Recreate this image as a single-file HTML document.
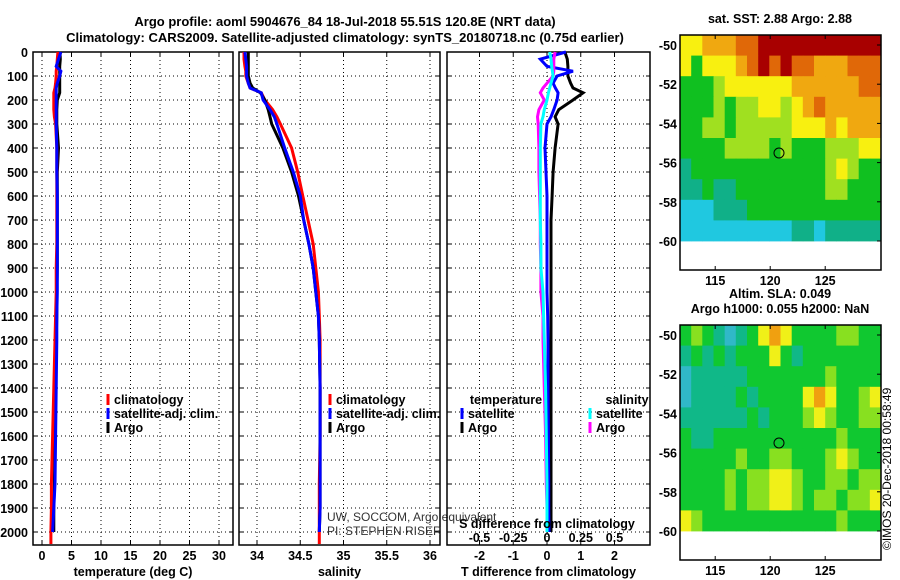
<!DOCTYPE html>
<html><head><meta charset="utf-8"><style>
body{margin:0;background:#fff}
svg{display:block;font-family:"Liberation Sans",Arial,sans-serif}
.b{font-weight:bold;font-size:12.5px}
.t{font-weight:bold;font-size:13px}
</style></head><body>
<svg id="c" width="900" height="580" viewBox="0 0 900 580" xmlns="http://www.w3.org/2000/svg">
<text class="t" x="345" y="26" text-anchor="middle">Argo profile: aoml 5904676_84 18-Jul-2018 55.51S 120.8E (NRT data)</text>
<text class="t" x="345" y="42" text-anchor="middle">Climatology: CARS2009. Satellite-adjusted climatology: synTS_20180718.nc (0.75d earlier)</text>
<g id="g"></g>
</svg>
<script>
// depth levels (m)
const depths=[0,30,60,80,100,130,150,170,200,240,270,300,400,500,600,700,800,900,1000,1100,1200,1400,1600,1800,1900,2000,2050];
// temperature (deg C)
const tempClim=[2.7,2.6,2.5,2.4,2.4,2.3,2.2,2.0,2.0,2.0,2.1,2.3,2.5,2.5,2.5,2.5,2.5,2.4,2.4,2.3,2.2,2.0,1.8,1.6,1.6,1.5,1.5];
const tempSat=[3.2,2.8,2.4,3.2,3.0,2.6,2.4,2.4,2.4,2.4,2.4,2.4,2.5,2.5,2.6,2.6,2.6,2.6,2.6,2.5,2.5,2.4,2.3,2.2,2.0,1.8,null];
const tempArgo=[3.05,3.1,3.0,3.0,3.0,3.0,3.0,3.0,2.6,2.5,2.5,2.5,2.8,2.6,2.6,2.6,2.6,2.6,2.5,2.5,2.4,2.3,2.2,2.1,2.0,2.0,null];
// salinity
const salClim=[33.85,33.85,33.86,33.87,33.87,33.9,33.92,34.05,34.09,34.18,34.23,34.27,34.40,34.47,34.53,34.59,34.65,34.68,34.71,34.72,34.73,34.73,34.73,34.72,34.72,34.72,34.72];
const salSat=[33.86,33.87,33.88,33.88,33.88,33.9,33.92,34.05,34.07,34.15,34.2,34.23,34.32,34.42,34.5,34.54,34.6,34.65,34.68,34.71,34.72,34.73,34.73,34.73,34.73,34.72,null];
const salArgo=[33.9,33.9,33.9,33.9,33.9,33.92,33.95,34.04,34.09,34.13,34.15,34.17,34.30,34.40,34.48,34.54,34.6,34.65,34.68,34.71,34.72,34.73,34.73,34.73,34.73,34.72,null];
// T differences
const tdSat=[0.56,-0.2,0.0,0.77,0.3,0.18,0.25,0.33,0.3,0.2,0.12,0.0,-0.06,-0.03,0.0,0.0,0.0,0.0,0.0,0.02,0.03,0.03,0.04,0.05,0.05,0.06,null];
const tdArgo=[0.53,0.6,0.62,0.62,0.62,0.7,0.77,1.07,0.77,0.35,0.24,0.33,0.24,0.18,0.15,0.12,0.12,0.12,0.12,0.12,0.12,0.12,0.12,0.12,0.12,0.12,null];
// S differences
const sdArgo=[0.06,0.05,0.05,0.05,0.045,0.0,-0.03,-0.05,-0.02,-0.06,-0.07,-0.065,-0.06,-0.06,-0.055,-0.05,-0.05,-0.045,-0.045,-0.03,-0.03,-0.02,-0.01,-0.005,0.0,0.0,null];
const sdSat=[0.02,0.03,0.035,0.04,0.045,0.03,0.02,0.01,0.0,-0.02,-0.03,-0.045,-0.05,-0.05,-0.05,-0.05,-0.045,-0.045,-0.03,-0.025,-0.02,-0.01,-0.005,0.0,0.0,0.0,null];
const depthTicks=[0,100,200,300,400,500,600,700,800,900,1000,1100,1200,1300,1400,1500,1600,1700,1800,1900,2000];
const tempTicks=[0,5,10,15,20,25,30];
const salTicks=[34,34.5,35,35.5,36];
const tdTicks=[-2,-1,0,1,2];
const sdTicks=[-0.5,-0.25,0,0.25,0.5];
const sdTickLabels=["-0.5","-0.25","0","0.25","0.5"];
// maps: 1-degree grids, rows lat -50..-60, cols lon 112..130 (colour class)
const sstGrid=[
[5,5,6,6,6,7,7,8,8,8,8,8,8,8,8,8,8,8],
[5,3,5,5,5,6,7,8,7,8,7,7,6,6,6,7,7,7],
[3,3,3,4,5,5,5,5,5,5,6,6,6,6,6,6,7,7],
[3,3,3,4,3,4,4,5,5,4,5,6,7,6,6,6,6,6],
[3,3,4,4,3,4,4,4,4,4,5,5,5,6,5,6,6,6],
[3,3,3,3,4,4,4,4,3,4,3,3,3,4,4,4,5,5],
[2,3,3,3,3,3,3,3,3,3,3,3,3,4,5,4,3,3],
[2,2,3,2,2,3,3,3,3,3,3,3,3,4,4,3,3,3],
[1,1,1,2,2,2,3,3,3,3,3,3,3,3,3,3,3,3],
[1,1,1,1,1,1,1,1,1,1,2,2,1,2,2,2,2,2]];
const slaGrid=[
[3,4,3,2,1,2,3,5,6,5,3,3,3,3,4,4,3,3],
[2,3,2,3,2,3,3,3,5,3,2,3,3,3,3,3,3,3],
[1,2,2,2,2,2,3,3,3,3,3,3,3,4,3,3,3,3],
[1,2,2,2,2,3,2,3,3,3,3,5,6,5,3,3,4,5],
[2,2,2,2,2,2,3,2,3,3,3,4,5,4,3,3,4,4],
[3,2,2,3,3,3,3,3,3,3,3,3,3,3,4,3,3,3],
[3,3,3,3,3,4,3,3,4,4,3,3,3,4,5,4,3,3],
[3,3,3,3,4,3,4,4,5,5,4,3,3,4,4,3,4,4],
[3,3,3,3,4,3,4,4,5,5,4,3,4,4,3,4,4,5],
[5,4,3,3,3,3,3,3,3,3,3,3,3,3,4,3,3,3]];
const latTicks=[-50,-52,-54,-56,-58,-60];
const lonTicks=[115,120,125];
const floatLon=120.8, floatLat=-55.51;

const NS="http://www.w3.org/2000/svg";
const G=document.getElementById('g');
function mk(tag,attrs,parent){const e=document.createElementNS(NS,tag);for(const k in attrs)e.setAttribute(k,attrs[k]);(parent||G).appendChild(e);return e;}
function txt(x,y,s,cls,anchor,parent){const e=mk('text',{x:x,y:y,'class':cls||'b','text-anchor':anchor||'middle'},parent);e.textContent=s;return e;}
const y=d=>52+d*0.24;
const PT=545;
function panel(name,x0,x1,xs,ticks,labels,xlabel){
  const g=mk('g',{});
  
  
  ticks.forEach(v=>{const X=xs(v);mk('line',{x1:X,y1:52,x2:X,y2:PT,stroke:'#000','stroke-width':1,'stroke-dasharray':'1,3'},g);
    mk('line',{x1:X,y1:PT,x2:X,y2:PT-4,stroke:'#000'},g);mk('line',{x1:X,y1:52,x2:X,y2:56,stroke:'#000'},g);});
  depthTicks.forEach(d=>{if(d>0)mk('line',{x1:x0,y1:y(d),x2:x1,y2:y(d),stroke:'#000','stroke-dasharray':'1,3'},g);
    mk('line',{x1:x0,y1:y(d),x2:x0+4,y2:y(d),stroke:'#000'},g);mk('line',{x1:x1,y1:y(d),x2:x1-4,y2:y(d),stroke:'#000'},g);});
  mk('rect',{x:x0,y:52,width:x1-x0,height:PT-52,fill:'none',stroke:'#000','stroke-width':1.5},g);
  ticks.forEach((v,i)=>{const l=txt(xs(v),560,labels[i],'b','middle',g);
    
    });
  const xl=txt((x0+x1)/2,576,xlabel,'b','middle',g);
  
  
  return g;
}
function line(vals,xs,col,name,g){
  let pts=[];vals.forEach((v,i)=>{if(v!==null)pts.push(xs(v).toFixed(1)+','+y(depths[i]).toFixed(1));});
  const p=mk('polyline',{points:pts.join(' '),fill:'none',stroke:col,'stroke-width':3,'stroke-linejoin':'miter'},g);
  
  
}
function leg(x,yy,col,label,g){mk('rect',{x:x-1.5,y:yy-10,width:3,height:11,fill:col},g);
  const t=txt(x+6,yy,label,'b','start',g);
  
  }

// depth labels
depthTicks.forEach(d=>{const t=txt(28,y(d)+5,String(d),'b','end');
  
  });

// panel 1
const xT=v=>42+v*5.9;
const p1=panel('temperature-panel',33,233,xT,tempTicks,tempTicks.map(String),'temperature (deg C)');
line(tempArgo,xT,'#000','temp-argo-line',p1);
line(tempClim,xT,'#f00','temp-climatology-line',p1);
line(tempSat,xT,'#00f','temp-satellite-line',p1);
leg(108,404,'#f00','climatology',p1);leg(108,418,'#00f','satellite-adj. clim.',p1);leg(108,432,'#000','Argo',p1);

// panel 2
const xS=v=>257+(v-34)*86.5;
const p2=panel('salinity-panel',239,440,xS,salTicks,salTicks.map(String),'salinity');
line(salClim,xS,'#f00','sal-climatology-line',p2);
line(salArgo,xS,'#000','sal-argo-line',p2);
line(salSat,xS,'#00f','sal-satellite-line',p2);
leg(330,404,'#f00','climatology',p2);leg(330,418,'#00f','satellite-adj. clim.',p2);leg(330,432,'#000','Argo',p2);
[['UW, SOCCOM, Argo equivalent',521],['PI: STEPHEN RISER',535]].forEach(a=>{const t=mk('text',{x:327,y:a[1],'font-size':'12','fill':'#333'},p2);t.textContent=a[0];
  
  });

// panel 3
const xD=v=>547+v*33.75;
const xSD=v=>547+v*135;
const p3=panel('difference-panel',447,650,xD,tdTicks,tdTicks.map(String),'T difference from climatology');
line(tdArgo,xD,'#000','tdiff-argo-line',p3);
line(tdSat,xD,'#00f','tdiff-satellite-line',p3);
line(sdArgo,xSD,'#f0f','sdiff-argo-line',p3);
line(sdSat,xSD,'#0ff','sdiff-satellite-line',p3);
txt(506,404,'temperature','b','middle',p3);txt(627,404,'salinity','b','middle',p3);
leg(462,418,'#00f','satellite',p3);leg(462,432,'#000','Argo',p3);
leg(590,418,'#0ff','satellite',p3);leg(590,432,'#f0f','Argo',p3);
const sdt=txt(547,528,'S difference from climatology','b','middle',p3);


sdTicks.forEach((v,i)=>txt(xSD(v),542,sdTickLabels[i],'b','middle',p3));

// maps
const sstCols=['#1030e0','#20c8e0','#10b088','#10c020','#a0e020','#f8f010','#f0a810','#e06808','#a80000'];
const slaCols=['#1030e0','#30b8c8','#10b888','#10c830','#88e020','#f0f018','#f0a010'];
function map(name,top,grid,cols,title1,title2){
  const g=mk('g',{});
  
  
  const mx=lon=>680+(lon-111.8)*11.0;
  const my=lat=>top+10+(-50-lat)*19.6;
  const cw=201/grid[0].length, ch=206/grid.length;
  grid.forEach((row,r)=>row.forEach((c,k)=>{
    const cell=mk('rect',{x:(680+k*cw).toFixed(1),y:(top+r*ch).toFixed(1),width:(cw+0.4).toFixed(1),height:(ch+0.4).toFixed(1),fill:cols[c]},g);
    
    
  }));
  mk('rect',{x:680,y:top,width:201,height:235,fill:'none',stroke:'#000','stroke-width':1.5},g);
  latTicks.forEach(l=>{txt(677,my(l)+5,String(l),'b','end',g);mk('line',{x1:881,y1:my(l),x2:877,y2:my(l),stroke:'#000'},g);});
  lonTicks.forEach(l=>{txt(mx(l),top+250,String(l),'b','middle',g);mk('line',{x1:mx(l),y1:top+235,x2:mx(l),y2:top+231,stroke:'#000'},g);mk('line',{x1:mx(l),y1:top,x2:mx(l),y2:top+4,stroke:'#000'},g);});
  const f=mk('circle',{cx:mx(floatLon),cy:my(floatLat),r:5,fill:'none',stroke:'#000','stroke-width':1},g);
  
  
  const t1=txt(780,top-12-(title2?15:0),title1,'b','middle',g);
  
  
  if(title2)txt(780,top-12,title2,'b','middle',g);
}
map('sst-map',35,sstGrid,sstCols,'sat. SST: 2.88 Argo: 2.88');
map('sla-map',325,slaGrid,slaCols,'Altim. SLA: 0.049','Argo h1000: 0.055 h2000: NaN');
const cp=mk('text',{x:0,y:0,'font-size':'12',transform:'translate(891,550) rotate(-90)'});
cp.textContent='©IMOS 20-Dec-2018 00:58:49';


</script>
</body></html>
